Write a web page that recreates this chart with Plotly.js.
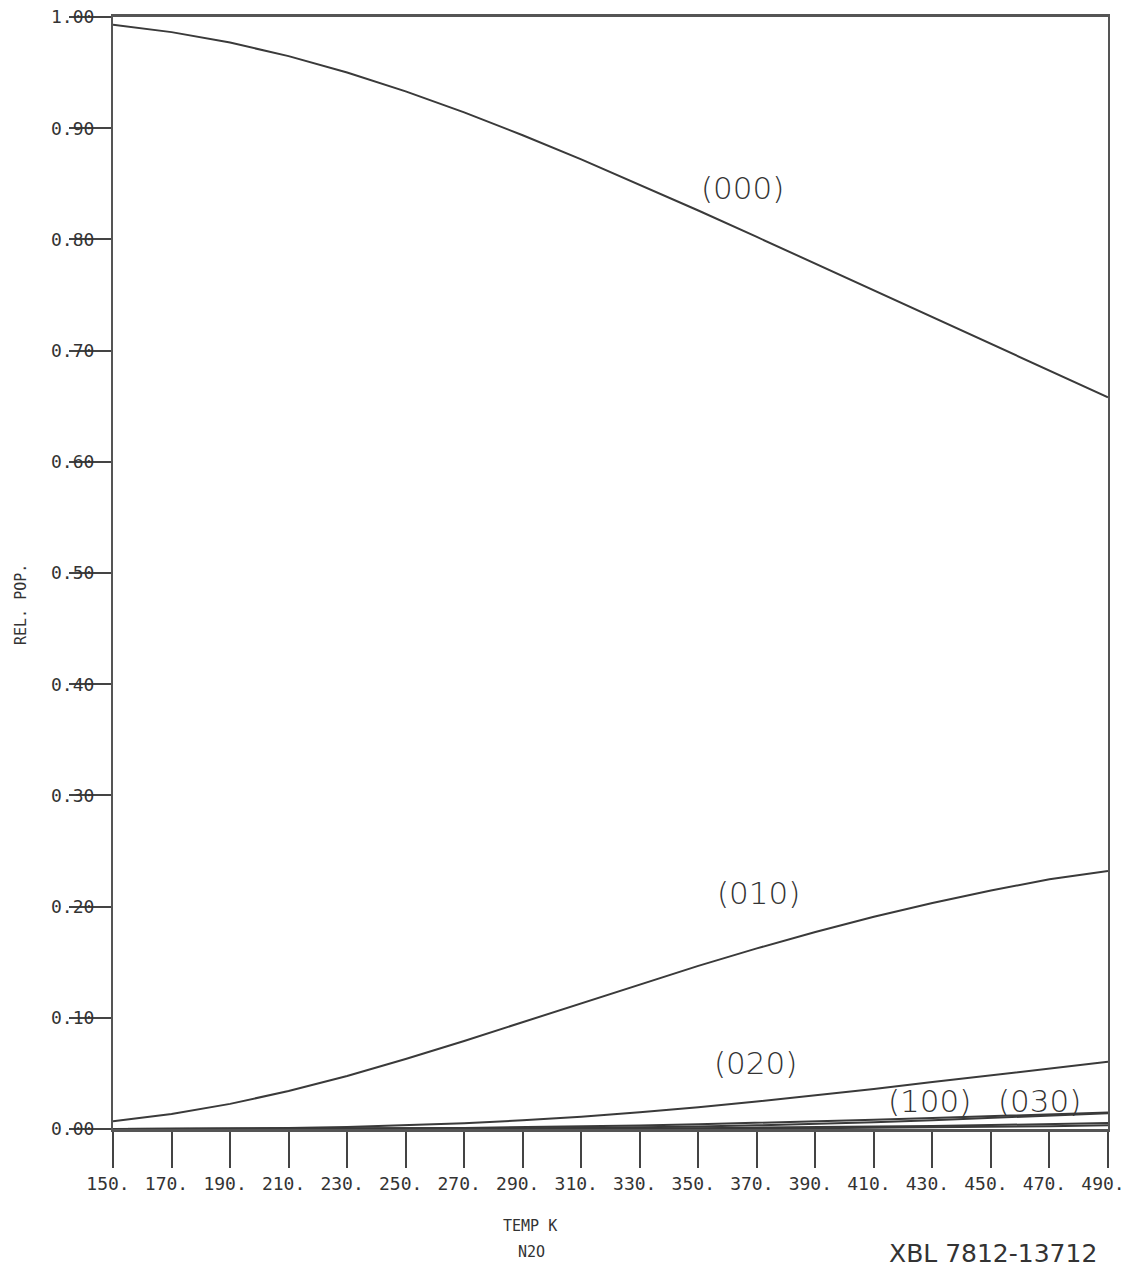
<!DOCTYPE html>
<html>
<head>
<meta charset="utf-8">
<script src="https://cdn.plot.ly/plotly-3.0.1.min.js"></script>
<style>html,body{margin:0;padding:0;background:#fff;}#chart{width:1128px;height:1271px;}</style>
</head>
<body>
<div id="chart"></div>
<script>
// Temperature (K)
var temps = [150,170,190,210,230,250,270,290,310,330,350,370,390,410,430,450,470,490];
// Relative populations of N2O vibrational levels
var pop000 = [0.9930,0.9864,0.9770,0.9648,0.9501,0.9331,0.9142,0.8937,0.8720,0.8493,0.8260,0.8022,0.7782,0.7542,0.7302,0.7062,0.6825,0.6580];
var pop010 = [0.0070,0.0135,0.0226,0.0341,0.0477,0.0629,0.0792,0.0962,0.1133,0.1302,0.1467,0.1624,0.1772,0.1909,0.2033,0.2145,0.2245,0.2320];
var pop020 = [0.0000,0.0001,0.0004,0.0009,0.0018,0.0032,0.0051,0.0078,0.0110,0.0150,0.0195,0.0247,0.0302,0.0360,0.0422,0.0485,0.0548,0.0605];
var pop100 = [0.0000,0.0000,0.0001,0.0001,0.0003,0.0006,0.0010,0.0015,0.0022,0.0031,0.0042,0.0054,0.0068,0.0083,0.0099,0.0116,0.0133,0.0148];
var pop030 = [0.0000,0.0000,0.0000,0.0000,0.0001,0.0001,0.0003,0.0006,0.0010,0.0015,0.0023,0.0033,0.0046,0.0061,0.0079,0.0099,0.0120,0.0142];
var pop110 = [0.0000,0.0000,0.0000,0.0000,0.0000,0.0000,0.0001,0.0002,0.0003,0.0005,0.0007,0.0011,0.0016,0.0021,0.0028,0.0035,0.0044,0.0054];
var pop040 = [0.0000,0.0000,0.0000,0.0000,0.0000,0.0000,0.0000,0.0001,0.0001,0.0002,0.0003,0.0004,0.0007,0.0010,0.0014,0.0019,0.0025,0.0033];

var xTickVals = [150,170,190,210,230,250,270,290,310,330,350,370,390,410,430,450,470,490];
var xTickText = ["150.","170.","190.","210.","230.","250.","270.","290.","310.","330.","350.","370.","390.","410.","430.","450.","470.","490."];
var yTickVals = [0,0.1,0.2,0.3,0.4,0.5,0.6,0.7,0.8,0.9,1.0];
var yTickText = ["0.00","0.10","0.20","0.30","0.40","0.50","0.60","0.70","0.80","0.90","1.00"];

var curveLabels = ["(000)","(010)","(020)","(100)","(030)"];
var labelT = [365,370.5,369.5,429,466.5];
var labelP = [0.846,0.212,0.0594,0.0252,0.0252];

var lineColor = "#3a3a3a";
function tr(y){ return {x: temps, y: y, type: "scatter", mode: "lines", line: {color: lineColor, width: 2}, hoverinfo: "skip", showlegend: false}; }
var data = [tr(pop000), tr(pop010), tr(pop020), tr(pop100), tr(pop030), tr(pop110), tr(pop040)];

var mono = "DejaVu Sans Mono, monospace";
var ann = [];
for (var i = 0; i < curveLabels.length; i++) {
  ann.push({x: labelT[i], y: labelP[i], xref: "x", yref: "y", text: curveLabels[i], showarrow: false,
    font: {family: "DejaVu Sans, sans-serif", size: 31, color: "#333", weight: 200}, xanchor: "center", yanchor: "middle"});
}
ann.push({x: 0.4191, y: -0.0872, xref: "paper", yref: "paper", text: "TEMP K", showarrow: false,
  font: {family: mono, size: 15, color: "#333"}, xanchor: "center", yanchor: "middle"});
ann.push({x: 0.4211, y: -0.1106, xref: "paper", yref: "paper", text: "N2O", showarrow: false,
  font: {family: mono, size: 15, color: "#333"}, xanchor: "center", yanchor: "middle"});
ann.push({x: -0.0925, y: 0.4721, xref: "paper", yref: "paper", text: "REL. POP.", showarrow: false, textangle: -90,
  font: {family: mono, size: 15, color: "#333"}, xanchor: "center", yanchor: "middle"});
ann.push({x: 0.7779, y: -0.1268, xref: "paper", yref: "paper", text: "XBL 7812-13712", showarrow: false,
  font: {family: "DejaVu Sans, sans-serif", size: 25, color: "#333"}, xanchor: "left", yanchor: "bottom"});

var layout = {
  width: 1128, height: 1271,
  margin: {l: 113, r: 20, t: 17, b: 142, pad: 0},
  paper_bgcolor: "#fff", plot_bgcolor: "#fff",
  showlegend: false,
  xaxis: {range: [150, 490], tickmode: "array", tickvals: xTickVals, ticktext: xTickText,
    ticks: "outside", ticklen: 36, tickwidth: 2, tickcolor: "#444",
    ticklabelshift: -5, ticklabeloverflow: "allow",
    showline: true, linecolor: "#555", linewidth: 3, mirror: true,
    showgrid: false, zeroline: false,
    tickfont: {family: mono, size: 18, color: "#333"}},
  yaxis: {range: [0, 1], tickmode: "array", tickvals: yTickVals, ticktext: yTickText,
    ticks: "outside", ticklen: 42, tickwidth: 2, tickcolor: "#444", ticklabelstandoff: -29,
    showline: true, linecolor: "#555", linewidth: 2, mirror: true,
    showgrid: false, zeroline: false,
    tickfont: {family: mono, size: 18, color: "#333"}},
  annotations: ann
};
Plotly.newPlot("chart", data, layout, {displayModeBar: false, staticPlot: true});
</script>
</body>
</html>
